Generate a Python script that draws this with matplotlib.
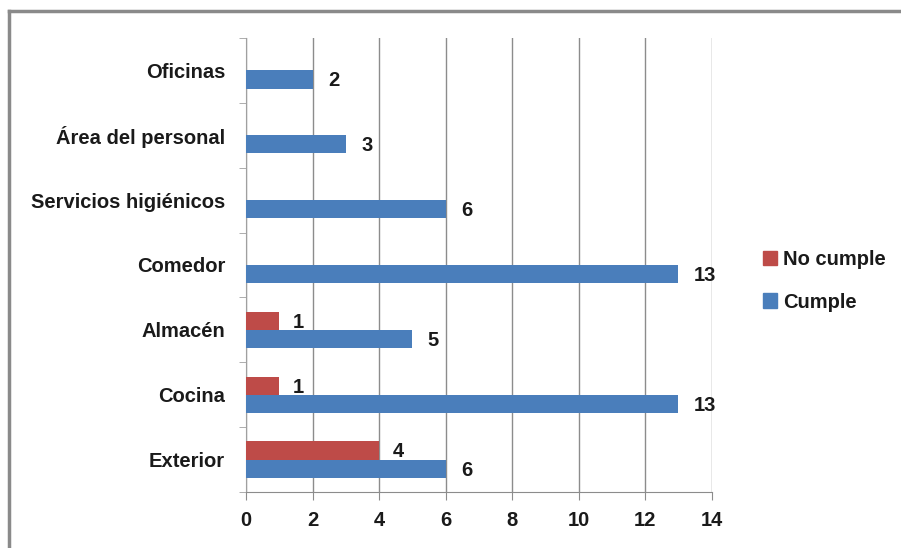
import matplotlib
matplotlib.use("Agg")
import matplotlib.pyplot as plt
from matplotlib.lines import Line2D
from matplotlib.patches import Patch
import numpy as np

categories = ["Exterior", "Cocina", "Almacén", "Comedor",
              "Servicios higiénicos", "Área del personal", "Oficinas"]
cumple = [6, 13, 5, 13, 6, 3, 2]
no_cumple = [4, 1, 1, 0, 0, 0, 0]
x_ticks = [0, 2, 4, 6, 8, 10, 12, 14]

plt.rcParams['font.family'] = ['Liberation Sans', 'DejaVu Sans']

BLUE = "#4A7EBB"
RED = "#BE4B48"
GRID = "#8C8C8C"
TXT = "#1a1a1a"
FS = 14.5

fig = plt.figure(figsize=(9.01, 5.48), dpi=100)
ax = fig.add_axes([246/901, 1-492/548, (711.5-246)/901, (492-38)/548])

y = np.arange(len(categories))
h = 0.28
ax.barh(y - h/2, cumple, height=h, color=BLUE, zorder=3, label="Cumple")
ax.barh(y + h/2, no_cumple, height=h, color=RED, zorder=3, label="No cumple")

for yi, v in zip(y, cumple):
    ax.annotate(str(v), (v, yi - h/2), xytext=(11, -1), textcoords="offset points",
                ha="left", va="center", fontsize=FS, fontweight="bold", color=TXT)
for yi, v in zip(y, no_cumple):
    if v > 0:
        ax.annotate(str(v), (v, yi + h/2), xytext=(10, -1), textcoords="offset points",
                    ha="left", va="center", fontsize=FS, fontweight="bold", color=TXT)

ax.set_xlim(0, 14)
ax.set_ylim(-0.5, len(categories) - 0.5)
ax.set_xticks(x_ticks)
ax.set_xticklabels([str(t) for t in x_ticks])
ax.set_yticks(y)
ax.set_yticklabels(categories)
ax.set_yticks(np.arange(-0.5, len(categories), 1), minor=True)

ax.grid(axis="x", color=GRID, linewidth=1.0, zorder=0)
for s in ["top", "right"]:
    ax.spines[s].set_visible(False)
ax.spines["left"].set_color("#A0A0A0")
ax.spines["bottom"].set_color("#8C8C8C")
ax.tick_params(axis="y", which="major", length=0, pad=15, labelsize=FS, labelcolor=TXT)
ax.tick_params(axis="y", which="minor", length=5, color="#A0A0A0", direction="out")
ax.tick_params(axis="x", which="major", length=6, color="#8C8C8C", pad=8,
               labelsize=FS, labelcolor=TXT)
for lab in ax.get_xticklabels() + ax.get_yticklabels():
    lab.set_fontweight("bold")

handles = [Patch(color=RED), Patch(color=BLUE)]
leg = fig.legend(handles, ["No cumple", "Cumple"], loc="center left",
                 bbox_to_anchor=(745/901, 1-281/548), frameon=False,
                 handlelength=0.7, handleheight=0.7, handletextpad=0.3,
                 labelspacing=1.15, prop={"size": FS, "weight": "bold"})
for t in leg.get_texts():
    t.set_color(TXT)

# outer frame (top and left visible)
fig.add_artist(Line2D([9/901, 9/901], [0, 1-11/548], transform=fig.transFigure,
                      color="#8A8A8A", linewidth=2.5))
fig.add_artist(Line2D([9/901, 1], [1-11/548, 1-11/548], transform=fig.transFigure,
                      color="#8A8A8A", linewidth=2.5))

fig.savefig("out.png", dpi=100)
